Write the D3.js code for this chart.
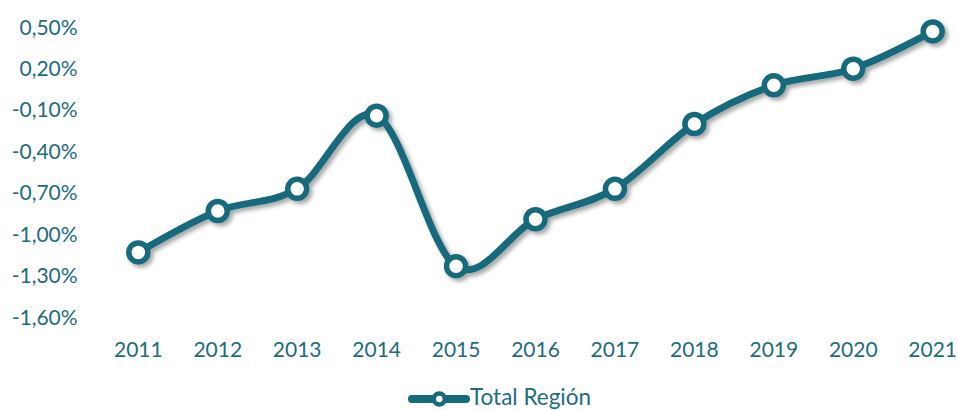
<!DOCTYPE html>
<html>
<head>
<meta charset="utf-8">
<script src="https://cdn.jsdelivr.net/npm/d3@7"></script>
<style>
  html, body { margin: 0; padding: 0; background: #fff; }
  svg { display: block; }
  .tick text { font-family: Lato, "Open Sans", sans-serif; font-size: 21px; fill: #1d6c7d; }
</style>
</head>
<body>
<svg id="chart" width="958" height="410"></svg>
<script>
// chart data
const years = ["2011", "2012", "2013", "2014", "2015", "2016", "2017", "2018", "2019", "2020", "2021"];
const values = [-1.13, -0.83, -0.67, -0.14, -1.23, -0.89, -0.67, -0.20, 0.08, 0.20, 0.47];
const yTicks = [0.5, 0.2, -0.1, -0.4, -0.7, -1.0, -1.3, -1.6];
const seriesName = "Total Región";

const lineColor = "#156a7b";
const svg = d3.select("#chart");

// drop shadow like the excel one
const defs = svg.append("defs");
defs.append("filter")
    .attr("id", "shadow")
    .attr("x", "-20%").attr("y", "-20%")
    .attr("width", "140%").attr("height", "140%")
    .append("feDropShadow")
    .attr("dx", 3).attr("dy", 3)
    .attr("stdDeviation", 2.2)
    .attr("flood-color", "#000")
    .attr("flood-opacity", 0.35);

const x = d3.scaleBand().domain(years).range([98.6, 972.4]);
const y = d3.scaleLinear().domain([-1.6, 0.5]).range([317.3, 27.3]);
const cx = d => x(d) + x.bandwidth() / 2;

const fmt = d3.formatLocale({ decimal: ",", thousands: ".", grouping: [3], currency: ["", "€"], minus: "-" }).format(".2f");

// y axis (labels only)
svg.append("g")
    .attr("transform", "translate(98.6,0)")
    .call(d3.axisLeft(y).tickValues(yTicks).tickFormat(d => fmt(d) + "%").tickSize(0).tickPadding(21))
    .call(g => g.select(".domain").remove());

// x axis (labels only)
svg.append("g")
    .attr("transform", "translate(0,317.3)")
    .call(d3.axisBottom(x).tickSize(0).tickPadding(25))
    .call(g => g.select(".domain").remove());

const data = years.map((yr, i) => ({ year: yr, value: values[i] }));

const line = d3.line()
    .x(d => cx(d.year))
    .y(d => y(d.value))
    .curve(d3.curveCatmullRom.alpha(0));

const plot = svg.append("g").attr("filter", "url(#shadow)");

plot.append("path")
    .datum(data)
    .attr("d", line)
    .attr("fill", "none")
    .attr("stroke", lineColor)
    .attr("stroke-width", 7)
    .attr("stroke-linecap", "round");

plot.selectAll(".dot")
    .data(data)
    .enter().append("circle")
    .attr("class", "dot")
    .attr("cx", d => cx(d.year))
    .attr("cy", d => y(d.value))
    .attr("r", 9.5)
    .attr("fill", "#fff")
    .attr("stroke", lineColor)
    .attr("stroke-width", 5.5);

// legend (nudged up a little so the text is not clipped)
const legend = svg.append("g").attr("transform", "translate(410,399)");
legend.append("line")
    .attr("x1", 2).attr("x2", 56)
    .attr("stroke", lineColor)
    .attr("stroke-width", 8)
    .attr("stroke-linecap", "round");
legend.append("circle")
    .attr("cx", 29.3).attr("r", 5.5)
    .attr("fill", "#fff")
    .attr("stroke", lineColor)
    .attr("stroke-width", 4.5);
legend.append("text")
    .attr("x", 60)
    .attr("y", 6)
    .attr("font-family", "Lato, 'Open Sans', sans-serif")
    .attr("font-size", 22.5)
    .attr("fill", "#1d6c7d")
    .text(seriesName);
</script>
</body>
</html>
